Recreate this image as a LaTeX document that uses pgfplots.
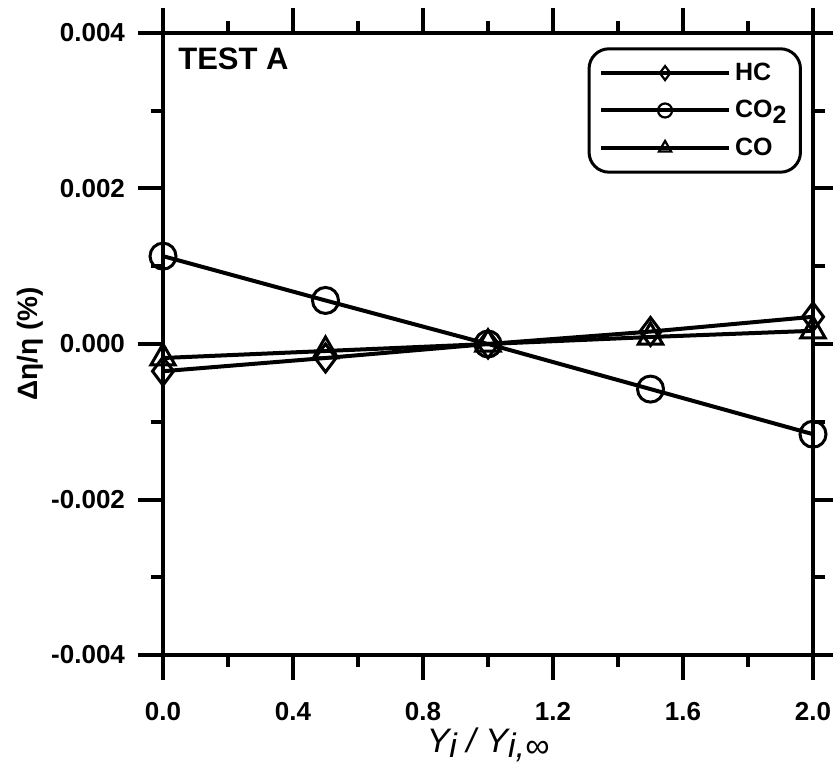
\documentclass[border=0pt]{standalone}
\usepackage{fontspec}
\setmainfont{Liberation Sans}
\usepackage{pgfplots}
\pgfplotsset{compat=1.18}
\begin{document}
\begin{tikzpicture}
\begin{axis}[
  name=ax,
  scale only axis,
  width=325pt, height=311pt,
  xmin=0, xmax=2, ymin=-0.004, ymax=0.004,
  xtick={0,0.4,0.8,1.2,1.6,2.0},
  ytick={-0.004,-0.002,0,0.002,0.004},
  minor x tick num=1, minor y tick num=1,
  tick align=outside,
  major tick length=12.5pt, minor tick length=6pt,
  axis line style={line width=2pt},
  every tick/.style={black, line width=2pt},
  scaled ticks=false,
  /pgf/number format/assume math mode=true,
  xticklabel style={font=\fontsize{13}{13}\selectfont\bfseries, yshift=-7.5pt, /pgf/number format/.cd, fixed, fixed zerofill, precision=1},
  yticklabel style={font=\fontsize{13}{13}\selectfont\bfseries, xshift=-3pt, /pgf/number format/.cd, fixed, fixed zerofill, precision=3},
  xlabel={\fontsize{17}{17}\selectfont\itshape Y\raisebox{-2.5pt}{i} / Y\raisebox{-2.5pt}{i,∞}},
  xlabel style={at={(axis description cs:0.5,-0.145)}, anchor=center, inner sep=1pt},
  ylabel={\fontsize{14}{14}\selectfont\bfseries Δη/η (\%)},
  ylabel style={at={(axis description cs:-0.2046,0.5)}, anchor=center, rotate=0},
  clip=false,
  legend style={at={(axis description cs:0.983,0.977)}, anchor=north east, draw=black, line width=1.5pt, rounded corners=10pt, font=\fontsize{12.5}{12.5}\selectfont\bfseries, inner xsep=5pt, inner ysep=5pt, row sep=4.5pt},
  legend cell align=left,
  legend image code/.code={\draw[mark repeat=2,mark phase=2,#1, mark size=3.5pt, mark options={line width=1.1pt}] plot coordinates {(0pt,0pt) (32pt,0pt) (64pt,0pt)};},
]
\addplot[black, line width=2pt, mark=diamond, mark size=7pt, mark options={line width=1.5pt}] coordinates {
 (0,-0.00035) (0.5,-0.00018) (1,0) (1.5,0.00016) (2,0.00035)};
\addlegendentry{HC}
\addplot[black, line width=2pt, mark=o, mark size=6.5pt, mark options={line width=1.5pt}] coordinates {
 (0,0.00113) (0.5,0.00056) (1,0) (1.5,-0.00058) (2,-0.00116)};
\addlegendentry{CO\raisebox{-3pt}{2}}
\addplot[black, line width=2pt, mark=triangle, mark size=7pt, mark options={line width=1.5pt}] coordinates {
 (0,-0.00018) (0.5,-0.00009) (1,0) (1.5,0.00009) (2,0.00017)};
\addlegendentry{CO}
\node[anchor=north west, inner sep=0pt, font=\fontsize{15.5}{15.5}\selectfont\bfseries] at (axis description cs:0.023,0.976) {TEST A};
\end{axis}
\pgfresetboundingbox
\path ([xshift=-81.5pt,yshift=-55.5pt]ax.south west) rectangle ([xshift=10pt,yshift=16.5pt]ax.north east);
\end{tikzpicture}
\end{document}
